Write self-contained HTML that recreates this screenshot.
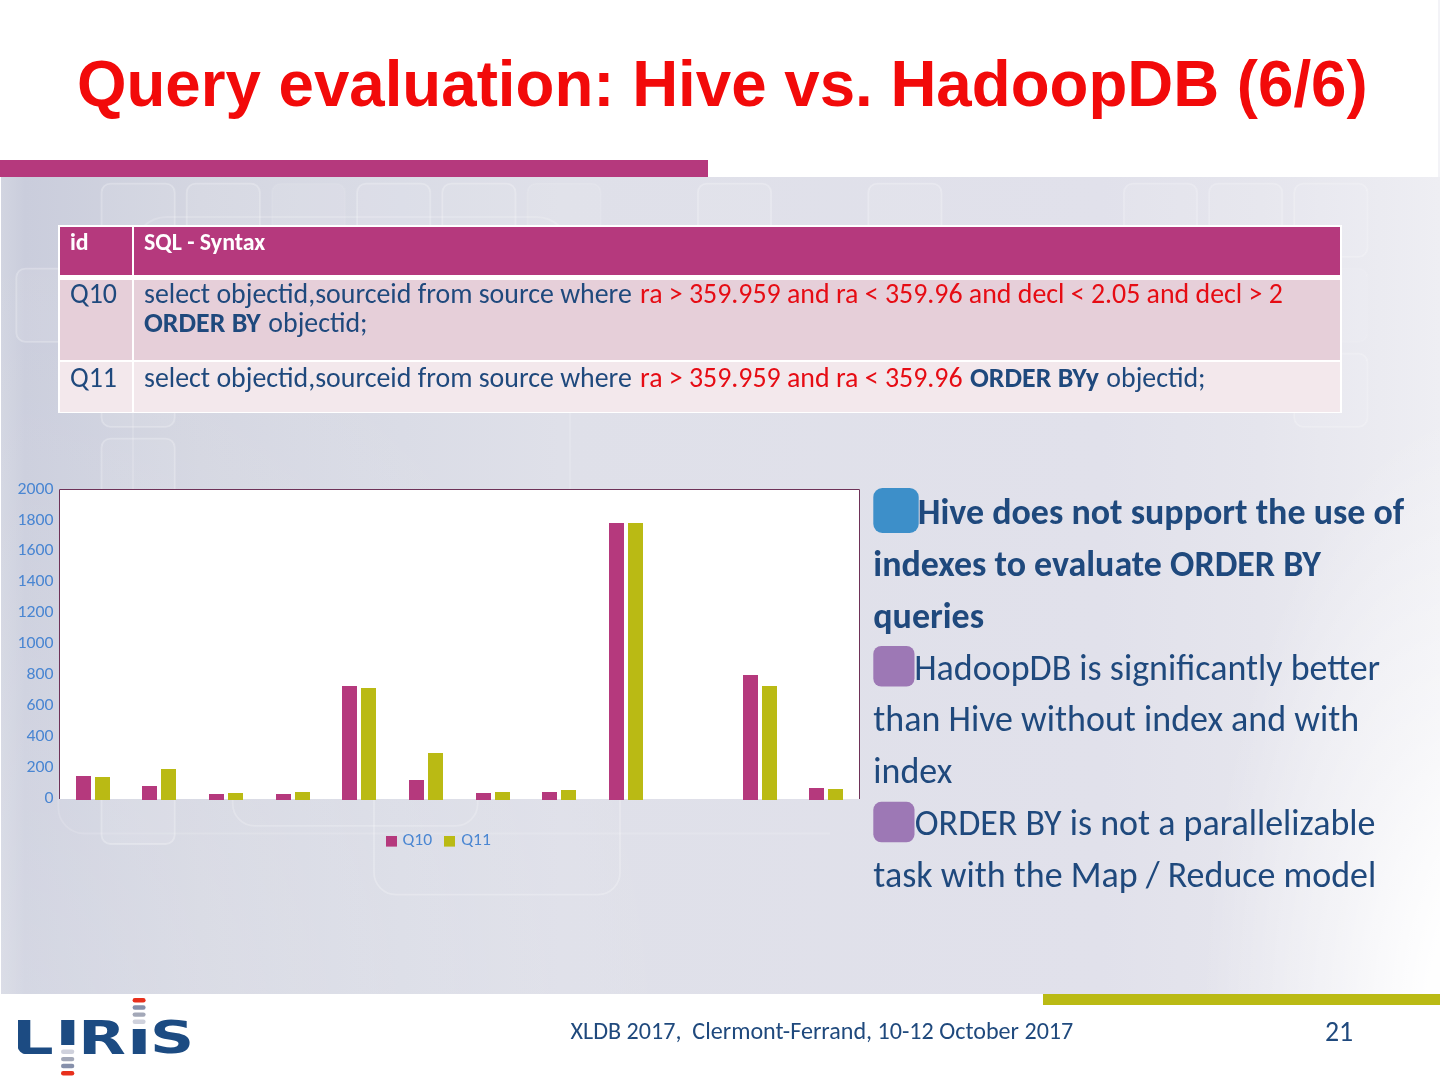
<!DOCTYPE html>
<html lang="en">
<head>
<meta charset="utf-8">
<title>Query evaluation: Hive vs. HadoopDB (6/6)</title>
<style>
html,body{margin:0;padding:0;background:#fff;}
body{width:1440px;height:1080px;position:relative;overflow:hidden;font-family:Carlito,"Liberation Sans",sans-serif;}
#bg{position:absolute;left:1px;top:177px;width:1439px;height:817px;
 background:radial-gradient(ellipse 300px 640px at 1500px 860px,rgba(255,255,255,1) 0%,rgba(255,255,255,.95) 25%,rgba(255,255,255,.5) 55%,rgba(255,255,255,0) 100%),radial-gradient(ellipse 700px 820px at 0px 880px,rgba(255,255,255,.22) 0%,rgba(255,255,255,0) 100%),linear-gradient(90deg,#d2d5e1 0px,#cacddc 24px,#d4d6e1 200px,#dadce6 400px,#dfe0e9 560px,#e1e1eb 1100px,#e5e5ed 1260px,#eeeef3 1439px);}
#edge{position:absolute;left:1438px;top:0;width:2px;height:177px;background:#f3f3f7;}
#topbar{position:absolute;left:0;top:160px;width:708px;height:17px;background:#b5397d;}
#botbar{position:absolute;left:1043px;top:994px;width:397px;height:11px;background:#baba14;}
svg{position:absolute;left:0;top:0;}
text{white-space:pre;}
.c{font-family:Carlito,"Liberation Sans",sans-serif;}
.l{font-family:"Liberation Sans",sans-serif;}
.b{font-weight:bold;}
</style>
</head>
<body>
<div id="bg"></div>
<div id="edge"></div>
<div id="topbar"></div>
<div id="botbar"></div>
<svg id="main" width="1440" height="1080" viewBox="0 0 1440 1080">

<g id="pattern" fill="rgba(255,255,255,0.08)" stroke="#ffffff" stroke-width="1.8">
<rect x="101.5" y="183.6" width="73.2" height="73.2" rx="9" stroke-opacity="0.24"/>
<rect x="186.7" y="183.6" width="73.2" height="73.2" rx="9" stroke-opacity="0.24"/>
<rect x="271.9" y="183.6" width="73.2" height="73.2" rx="9" stroke-opacity="0.07"/>
<rect x="357.1" y="183.6" width="73.2" height="73.2" rx="9" stroke-opacity="0.24"/>
<rect x="442.3" y="183.6" width="73.2" height="73.2" rx="9" stroke-opacity="0.24"/>
<rect x="527.5" y="183.6" width="73.2" height="73.2" rx="9" stroke-opacity="0.10"/>
<rect x="697.9" y="183.6" width="73.2" height="73.2" rx="9" stroke-opacity="0.24"/>
<rect x="868.3" y="183.6" width="73.2" height="73.2" rx="9" stroke-opacity="0.24"/>
<rect x="1123.9" y="183.6" width="73.2" height="73.2" rx="9" stroke-opacity="0.21"/>
<rect x="1209.1" y="183.6" width="73.2" height="73.2" rx="9" stroke-opacity="0.21"/>
<rect x="1294.3" y="183.6" width="73.2" height="73.2" rx="9" stroke-opacity="0.21"/>
<rect x="16.3" y="268.6" width="73.2" height="73.2" rx="9" stroke-opacity="0.24"/>
<rect x="101.5" y="353.6" width="73.2" height="73.2" rx="9" stroke-opacity="0.24"/>
<rect x="101.5" y="438.6" width="73.2" height="73.2" rx="9" stroke-opacity="0.24"/>
<rect x="1294.3" y="268.6" width="73.2" height="73.2" rx="9" stroke-opacity="0.09"/>
<rect x="1294.3" y="353.6" width="73.2" height="73.2" rx="9" stroke-opacity="0.21"/>
<rect x="133" y="217" width="437" height="480" rx="34" fill="none" stroke-opacity="0.17"/>
<path d="M58.3 780 V807.5 a26 26 0 0 0 26 26 H830" fill="none" stroke-opacity="0.14"/>
<rect x="101.5" y="770.8" width="73.2" height="73.2" rx="9" stroke-opacity="0.26"/>
<rect x="232.7" y="585" width="245" height="240.8" rx="22" fill="none" stroke-opacity="0.21"/>
<rect x="374" y="650" width="246" height="244.6" rx="22" fill="none" stroke-opacity="0.24"/>
</g>
<!-- title -->
<text class="l b" fill="#f20a0a" x="76.9" y="106.3" font-size="64" textLength="1290.82" lengthAdjust="spacingAndGlyphs">Query evaluation: Hive vs. HadoopDB (6/6)</text>
<!-- table -->
<g id="table">
<rect x="58" y="225" width="1284" height="188" fill="#ffffff"/>
<rect x="60" y="227" width="72" height="48" fill="#b5397d"/>
<rect x="134" y="227" width="1206" height="48" fill="#b5397d"/>
<rect x="60" y="280" width="72" height="80" fill="#e6cfd9"/>
<rect x="134" y="280" width="1206" height="80" fill="#e6cfd9"/>
<rect x="60" y="362" width="72" height="50" fill="#f3e8ec"/>
<rect x="134" y="362" width="1206" height="50" fill="#f3e8ec"/>
<text class="c b" fill="#ffffff" x="70" y="249.6" font-size="24" textLength="18.69" lengthAdjust="spacingAndGlyphs">id</text>
<text class="c b" fill="#ffffff" x="144" y="249.6" font-size="24" textLength="121.31" lengthAdjust="spacingAndGlyphs">SQL - Syntax</text>
<text class="c" fill="#1f497d" x="70" y="303" font-size="28" textLength="47.00" lengthAdjust="spacingAndGlyphs">Q10</text>
<text class="c" fill="#1f497d" x="144" y="303" font-size="28" textLength="494.08" lengthAdjust="spacingAndGlyphs">select objectid,sourceid from source where </text>
<text class="c" fill="#e60c14" x="640" y="303" font-size="28" textLength="642.77" lengthAdjust="spacingAndGlyphs">ra &gt; 359.959 and ra &lt; 359.96 and decl &lt; 2.05 and decl &gt; 2</text>
<text class="c b" fill="#1f497d" x="144" y="331.6" font-size="28" textLength="116.80" lengthAdjust="spacingAndGlyphs">ORDER BY</text>
<text class="c" fill="#1f497d" x="262" y="331.6" font-size="28" textLength="105.56" lengthAdjust="spacingAndGlyphs"> objectid;</text>
<text class="c" fill="#1f497d" x="70" y="387" font-size="28" textLength="47.00" lengthAdjust="spacingAndGlyphs">Q11</text>
<text class="c" fill="#1f497d" x="144" y="387" font-size="28" textLength="494.08" lengthAdjust="spacingAndGlyphs">select objectid,sourceid from source where </text>
<text class="c" fill="#e60c14" x="640" y="387" font-size="28" textLength="328.83" lengthAdjust="spacingAndGlyphs">ra &gt; 359.959 and ra &lt; 359.96 </text>
<text class="c b" fill="#1f497d" x="970" y="387" font-size="28" textLength="128.98" lengthAdjust="spacingAndGlyphs">ORDER BYy</text>
<text class="c" fill="#1f497d" x="1100" y="387" font-size="28" textLength="105.56" lengthAdjust="spacingAndGlyphs"> objectid;</text>
</g>
<!-- chart -->
<g id="chart">
<rect x="59" y="489" width="801" height="310" fill="#ffffff"/>
<path d="M59.5 799 V489.5 H859.5 V799" fill="none" stroke="#6e3258" stroke-width="1"/>
<rect x="76" y="776" width="15" height="24" fill="#b5397d"/>
<rect x="95" y="777" width="15" height="23" fill="#baba14"/>
<rect x="142" y="786" width="15" height="14" fill="#b5397d"/>
<rect x="161" y="769" width="15" height="31" fill="#baba14"/>
<rect x="209" y="794" width="15" height="6" fill="#b5397d"/>
<rect x="228" y="793" width="15" height="7" fill="#baba14"/>
<rect x="276" y="794" width="15" height="6" fill="#b5397d"/>
<rect x="295" y="792" width="15" height="8" fill="#baba14"/>
<rect x="342" y="686" width="15" height="114" fill="#b5397d"/>
<rect x="361" y="688" width="15" height="112" fill="#baba14"/>
<rect x="409" y="780" width="15" height="20" fill="#b5397d"/>
<rect x="428" y="753" width="15" height="47" fill="#baba14"/>
<rect x="476" y="793" width="15" height="7" fill="#b5397d"/>
<rect x="495" y="792" width="15" height="8" fill="#baba14"/>
<rect x="542" y="792" width="15" height="8" fill="#b5397d"/>
<rect x="561" y="790" width="15" height="10" fill="#baba14"/>
<rect x="609" y="523" width="15" height="277" fill="#b5397d"/>
<rect x="628" y="523" width="15" height="277" fill="#baba14"/>
<rect x="743" y="675" width="15" height="125" fill="#b5397d"/>
<rect x="762" y="686" width="15" height="114" fill="#baba14"/>
<rect x="809" y="788" width="15" height="12" fill="#b5397d"/>
<rect x="828" y="789" width="15" height="11" fill="#baba14"/>
<text class="c" fill="#4a86d2" x="53.6" y="802.8" font-size="16.4" text-anchor="end" textLength="9.02" lengthAdjust="spacingAndGlyphs">0</text>
<text class="c" fill="#4a86d2" x="53.6" y="771.88" font-size="16.4" text-anchor="end" textLength="27.06" lengthAdjust="spacingAndGlyphs">200</text>
<text class="c" fill="#4a86d2" x="53.6" y="740.96" font-size="16.4" text-anchor="end" textLength="27.06" lengthAdjust="spacingAndGlyphs">400</text>
<text class="c" fill="#4a86d2" x="53.6" y="710.04" font-size="16.4" text-anchor="end" textLength="27.06" lengthAdjust="spacingAndGlyphs">600</text>
<text class="c" fill="#4a86d2" x="53.6" y="679.12" font-size="16.4" text-anchor="end" textLength="27.06" lengthAdjust="spacingAndGlyphs">800</text>
<text class="c" fill="#4a86d2" x="53.6" y="648.2" font-size="16.4" text-anchor="end" textLength="36.06" lengthAdjust="spacingAndGlyphs">1000</text>
<text class="c" fill="#4a86d2" x="53.6" y="617.28" font-size="16.4" text-anchor="end" textLength="36.06" lengthAdjust="spacingAndGlyphs">1200</text>
<text class="c" fill="#4a86d2" x="53.6" y="586.36" font-size="16.4" text-anchor="end" textLength="36.06" lengthAdjust="spacingAndGlyphs">1400</text>
<text class="c" fill="#4a86d2" x="53.6" y="555.44" font-size="16.4" text-anchor="end" textLength="36.06" lengthAdjust="spacingAndGlyphs">1600</text>
<text class="c" fill="#4a86d2" x="53.6" y="524.52" font-size="16.4" text-anchor="end" textLength="36.06" lengthAdjust="spacingAndGlyphs">1800</text>
<text class="c" fill="#4a86d2" x="53.6" y="493.6" font-size="16.4" text-anchor="end" textLength="36.06" lengthAdjust="spacingAndGlyphs">2000</text>
<rect x="386" y="836" width="11" height="10.6" fill="#b5397d"/>
<rect x="444" y="836" width="11" height="10.6" fill="#baba14"/>
<text class="c" fill="#4a86d2" x="402.4" y="844.9" font-size="17" textLength="29.68" lengthAdjust="spacingAndGlyphs">Q10</text>
<text class="c" fill="#4a86d2" x="461.2" y="844.9" font-size="17" textLength="29.68" lengthAdjust="spacingAndGlyphs">Q11</text>
</g>
<!-- bullets -->
<g id="bullets">
<rect x="873.3" y="488" width="45.4" height="45" rx="9" ry="9" fill="#3d8fc9"/>
<rect x="873.3" y="646" width="41.2" height="40.5" rx="8" ry="8" fill="#9d78b5"/>
<rect x="873.3" y="801.8" width="41.2" height="40.5" rx="8" ry="8" fill="#9d78b5"/>
<text class="c b" fill="#1f497d" x="917.8" y="523.6" font-size="36" textLength="486.45" lengthAdjust="spacingAndGlyphs">Hive does not support the use of</text>
<text class="c b" fill="#1f497d" x="873.3" y="575.57" font-size="36" textLength="447.57" lengthAdjust="spacingAndGlyphs">indexes to evaluate ORDER BY</text>
<text class="c b" fill="#1f497d" x="873.3" y="627.54" font-size="36" textLength="110.78" lengthAdjust="spacingAndGlyphs">queries</text>
<text class="c" fill="#1f497d" x="914.2" y="679.51" font-size="36" textLength="465.92" lengthAdjust="spacingAndGlyphs">HadoopDB is significantly better</text>
<text class="c" fill="#1f497d" x="873.3" y="731.48" font-size="36" textLength="485.87" lengthAdjust="spacingAndGlyphs">than Hive without index and with</text>
<text class="c" fill="#1f497d" x="873.3" y="783.45" font-size="36" textLength="78.98" lengthAdjust="spacingAndGlyphs">index</text>
<text class="c" fill="#1f497d" x="914.8" y="835.42" font-size="36" textLength="460.70" lengthAdjust="spacingAndGlyphs">ORDER BY is not a parallelizable</text>
<text class="c" fill="#1f497d" x="873.3" y="887.39" font-size="36" textLength="502.97" lengthAdjust="spacingAndGlyphs">task with the Map / Reduce model</text>
</g>
<!-- footer -->
<g id="footer">
<text class="c" fill="#1f497d" x="570.6" y="1038.8" font-size="24" textLength="502.69" lengthAdjust="spacingAndGlyphs">XLDB 2017,  Clermont-Ferrand, 10-12 October 2017</text>
<text class="c" fill="#1f497d" x="1325" y="1041" font-size="28" textLength="28.25" lengthAdjust="spacingAndGlyphs">21</text>
<g id="logo" font-family="'DejaVu Sans','Liberation Sans',sans-serif" font-weight="bold" font-size="40" fill="#1c4b82">
<text transform="matrix(1.6346 0 0 1.1438 12.12 1053.80)">L</text>
<text transform="matrix(1.7500 0 0 0.8288 54.70 1044.60)">I</text>
<text transform="matrix(1.5455 0 0 1.1517 78.14 1053.80)">R</text>
<text transform="matrix(1.7105 0 0 0.8390 126.44 1053.80)">I</text>
<text transform="matrix(1.5304 0 0 1.1258 150.01 1053.42)">S</text>
</g>
<path d="M17.5 1045.5 V1054.3 H26.5 A9 9 0 0 1 17.5 1045.5 Z" fill="#ffffff"/>
<rect x="61.0" y="1049.6" width="13.3" height="4.4" rx="2.2" fill="#cfd1dc"/>
<rect x="61.0" y="1056.9" width="13.3" height="4.4" rx="2.2" fill="#a3a8b8"/>
<rect x="61.0" y="1063.8" width="13.3" height="4.4" rx="2.2" fill="#8690ab"/>
<rect x="61.0" y="1071.0" width="13.3" height="4.4" rx="2.2" fill="#e8301c"/>
<rect x="132.6" y="998.1" width="13.0" height="4.4" rx="2.2" fill="#e8301c"/>
<rect x="132.6" y="1005.3" width="13.0" height="4.4" rx="2.2" fill="#8690ab"/>
<rect x="132.6" y="1012.4" width="13.0" height="4.4" rx="2.2" fill="#a3a8b8"/>
<rect x="132.6" y="1019.5" width="13.0" height="4.4" rx="2.2" fill="#cfd1dc"/>
</g>
</svg>
</body>
</html>
